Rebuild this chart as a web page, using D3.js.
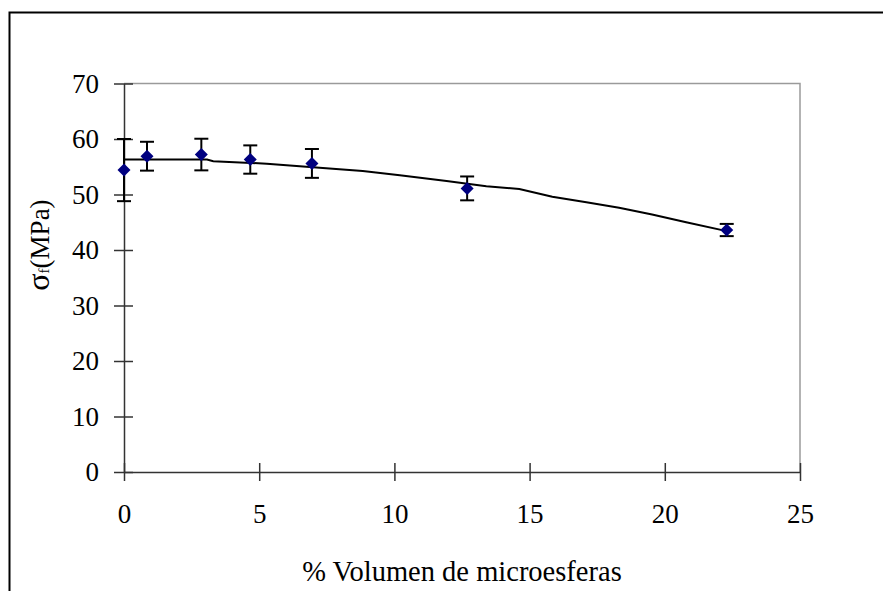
<!DOCTYPE html>
<html>
<head>
<meta charset="utf-8">
<script src="https://cdn.jsdelivr.net/npm/d3@7"></script>
<style>
  html, body { margin: 0; padding: 0; background: #fff; }
  svg { display: block; }
  text { font-family: "Liberation Serif", "Times New Roman", serif; fill: #000; }
</style>
</head>
<body>
<script>
// Flexural strength vs. volume fraction of microspheres
const volumen = [0, 0.85, 2.86, 4.67, 6.95, 12.69, 22.29];
const sigma = [54.4, 56.9, 57.2, 56.3, 55.6, 51.1, 43.6];
const errorSigma = [5.6, 2.6, 2.85, 2.55, 2.6, 2.15, 1.1];

// Trend line drawn through the data
const trendX = [0, 3.07, 3.3, 5.28, 6.5, 7.72, 8.83, 10.2, 11.93, 13.4, 14.62, 15.84, 17.1, 18.31, 19.53, 20.79, 22.29];
const trendY = [56.3, 56.3, 56.0, 55.55, 55.1, 54.65, 54.23, 53.46, 52.43, 51.5, 51.0, 49.6, 48.6, 47.6, 46.4, 45.0, 43.4];

const xTicks = [0, 5, 10, 15, 20, 25];
const yTicks = [0, 10, 20, 30, 40, 50, 60, 70];

const W = 883, H = 591;
const plotLeft = 124, plotRight = 800, plotTop = 83.5, plotBottom = 472;

const svg = d3.select("body").append("svg").attr("width", W).attr("height", H);

// outer chart frame
svg.append("rect")
  .attr("x", 9.5).attr("y", 12.5)
  .attr("width", W + 20).attr("height", H + 20)
  .attr("fill", "#fff").attr("stroke", "#000").attr("stroke-width", 2);

const x = d3.scaleLinear().domain([0, 25]).range([plotLeft, plotRight]);
const y = d3.scaleLinear().domain([0, 70]).range([plotBottom, plotTop]);

// plot-area border (top & right)
svg.append("path")
  .attr("d", `M${plotLeft},${plotTop}H${plotRight}V${plotBottom}`)
  .attr("fill", "none").attr("stroke", "#9a9a9a").attr("stroke-width", 1.5);

// y axis
const yAxis = svg.append("g").attr("transform", `translate(${plotLeft},0)`)
  .call(d3.axisLeft(y).tickValues(yTicks).tickSize(0).tickPadding(25).tickFormat(d3.format("d")));
yAxis.select(".domain").attr("stroke", "#333").attr("stroke-width", 1.5);
yAxis.selectAll(".tick line").attr("x1", -10).attr("x2", 9).attr("stroke", "#333").attr("stroke-width", 1.5);
yAxis.selectAll(".tick text").attr("font-size", 27).attr("font-family", "Liberation Serif").attr("dy", "0.33em");

// x axis
const xAxis = svg.append("g").attr("transform", `translate(0,${plotBottom})`)
  .call(d3.axisBottom(x).tickValues(xTicks).tickSize(0).tickPadding(32).tickFormat(d3.format("d")));
xAxis.select(".domain").attr("stroke", "#333").attr("stroke-width", 1.5);
xAxis.selectAll(".tick line").attr("y1", -9).attr("y2", 9).attr("stroke", "#333").attr("stroke-width", 1.5);
xAxis.selectAll(".tick text").attr("font-size", 27).attr("font-family", "Liberation Serif");

// trend line
const pts = trendX.map((v, i) => [v, trendY[i]]);
svg.append("path")
  .datum(pts)
  .attr("d", d3.line().x(d => x(d[0])).y(d => y(d[1])))
  .attr("fill", "none").attr("stroke", "#000").attr("stroke-width", 2);

// error bars
const data = volumen.map((v, i) => ({ v, s: sigma[i], e: errorSigma[i] }));
const eb = svg.append("g").attr("stroke", "#000").attr("stroke-width", 2);
data.forEach(d => {
  const cx = x(d.v);
  eb.append("line").attr("x1", cx).attr("x2", cx).attr("y1", y(d.s + d.e)).attr("y2", y(d.s - d.e));
  [d.s + d.e, d.s - d.e].forEach(val => {
    eb.append("line").attr("x1", cx - 7).attr("x2", cx + 7).attr("y1", y(val)).attr("y2", y(val));
  });
});

// markers
svg.append("g").selectAll("path")
  .data(data).join("path")
  .attr("transform", d => `translate(${x(d.v)},${y(d.s)})`)
  .attr("d", "M0,-6.5L6.5,0L0,6.5L-6.5,0Z")
  .attr("fill", "#000080");

// axis titles
svg.append("text")
  .attr("x", (plotLeft + plotRight) / 2).attr("y", 581)
  .attr("text-anchor", "middle").attr("font-size", 28.5)
  .text("% Volumen de microesferas");

const yt = svg.append("text")
  .attr("transform", "translate(49,245) rotate(-90)")
  .attr("text-anchor", "middle").attr("font-size", 27);
yt.append("tspan").attr("font-size", 32).text("σ");
yt.append("tspan").attr("font-size", 15).text("f");
yt.append("tspan").text("(MPa)");
</script>
</body>
</html>
